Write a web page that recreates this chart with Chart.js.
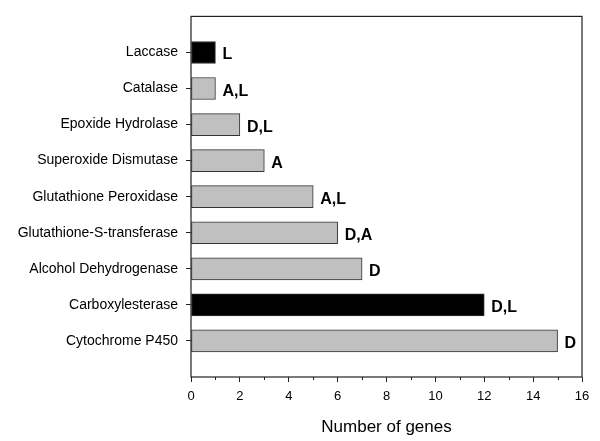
<!DOCTYPE html>
<html lang="en">
<head>
    <meta charset="UTF-8">
    <title>Number of genes</title>
    <script src="https://cdn.jsdelivr.net/npm/chart.js"></script>
    <style>
        body { margin: 0; background: #fff; }
        #wrap { width: 600px; height: 441px; }
    </style>
</head>
<body>
    <div id="wrap">
        <canvas id="genesChart" width="600" height="441"></canvas>
    </div>

    <script>
        // Chart data
        const enzymes = ['Laccase', 'Catalase', 'Epoxide Hydrolase', 'Superoxide Dismutase', 'Glutathione Peroxidase',
            'Glutathione-S-transferase', 'Alcohol Dehydrogenase', 'Carboxylesterase', 'Cytochrome P450'];
        const geneCounts = [1, 1, 2, 3, 5, 6, 7, 12, 15];
        const barNotes = ['L', 'A,L', 'D,L', 'A', 'A,L', 'D,A', 'D', 'D,L', 'D'];
        const highlighted = [true, false, false, false, false, false, false, true, false];
        const xTicks = [0, 2, 4, 6, 8, 10, 12, 14, 16];

        const FONT = 'Arial, "Liberation Sans", sans-serif';

        // frame, minor ticks and the letters after each bar
        const extras = {
            id: 'extras',
            afterDraw(chart) {
                const { ctx, chartArea: a, scales: { x, y } } = chart;
                ctx.save();
                ctx.strokeStyle = '#222';
                ctx.lineWidth = 1.2;
                ctx.strokeRect(a.left, a.top, a.right - a.left, a.bottom - a.top);

                ctx.lineWidth = 1;
                ctx.beginPath();
                for (let v = 1; v < 16; v += 2) {
                    const px = Math.round(x.getPixelForValue(v)) + 0.5;
                    ctx.moveTo(px, a.bottom);
                    ctx.lineTo(px, a.bottom + 3);
                }
                ctx.stroke();

                ctx.fillStyle = '#000';
                ctx.font = 'bold 16px ' + FONT;
                ctx.textAlign = 'left';
                ctx.textBaseline = 'alphabetic';
                geneCounts.forEach((v, i) => {
                    ctx.fillText(barNotes[i], x.getPixelForValue(v) + 7, y.getPixelForValue(i + 1) + 7);
                });
                ctx.restore();
            }
        };

        const ctx = document.getElementById('genesChart').getContext('2d');
        new Chart(ctx, {
            type: 'bar',
            data: {
                datasets: [{
                    data: geneCounts.map((v, i) => ({ x: v, y: i + 1 })),
                    backgroundColor: highlighted.map(h => h ? '#000' : '#c0c0c0'),
                    borderColor: '#333',
                    borderWidth: 1,
                    borderSkipped: false,
                    barThickness: 22
                }]
            },
            options: {
                indexAxis: 'y',
                responsive: false,
                animation: false,
                layout: { padding: { left: 0, top: 15, right: 18, bottom: 0 } },
                plugins: { legend: { display: false }, tooltip: { enabled: false } },
                scales: {
                    x: {
                        type: 'linear',
                        min: 0,
                        max: 16,
                        border: { display: false },
                        grid: {
                            drawOnChartArea: false,
                            tickLength: 5,
                            tickColor: c => (c.tick && c.tick.value % 2 === 0) ? '#222' : 'rgba(0,0,0,0)'
                        },
                        ticks: {
                            stepSize: 1,
                            autoSkip: false,
                            maxRotation: 0,
                            padding: 7,
                            color: '#000',
                            font: { family: FONT, size: 13 },
                            callback: v => xTicks.includes(v) ? String(v) : ''
                        },
                        title: {
                            display: true,
                            text: 'Number of genes',
                            color: '#000',
                            font: { family: FONT, size: 17 },
                            padding: { top: 4, bottom: 3 }
                        },
                        afterFit: s => { s.height = 64; }
                    },
                    y: {
                        type: 'linear',
                        min: 0,
                        max: 10,
                        reverse: true,
                        offset: false,
                        border: { display: false },
                        grid: { drawOnChartArea: false, offset: false, tickLength: 5, tickColor: '#222' },
                        afterBuildTicks: s => { s.ticks = enzymes.map((e, i) => ({ value: i + 1 })); },
                        ticks: {
                            autoSkip: false,
                            padding: 8,
                            color: '#000',
                            font: { family: FONT, size: 14 },
                            callback: v => enzymes[v - 1]
                        },
                        afterFit: s => { s.width = 191; }
                    }
                }
            },
            plugins: [extras]
        });
    </script>
</body>
</html>
